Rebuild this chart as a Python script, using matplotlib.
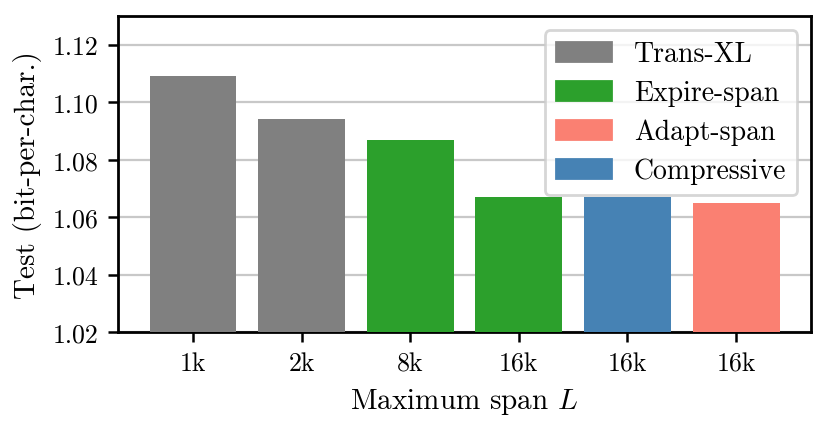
import matplotlib
matplotlib.use("Agg")
import matplotlib.pyplot as plt
from matplotlib.patches import Patch

# data
spans = ['1k', '2k', '8k', '16k', '16k', '16k']
bpc = [1.109, 1.094, 1.087, 1.067, 1.067, 1.065]
models = ['Trans-XL', 'Trans-XL', 'Expire-span', 'Expire-span', 'Compressive', 'Adapt-span']
legend_order = ['Trans-XL', 'Expire-span', 'Adapt-span', 'Compressive']
colors = {'Trans-XL': 'gray', 'Expire-span': '#2ca02c',
          'Adapt-span': 'salmon', 'Compressive': 'steelblue'}

plt.rcParams['font.family'] = ['cmr10', 'DejaVu Serif']
plt.rcParams['mathtext.fontset'] = 'cm'
plt.rcParams['axes.formatter.use_mathtext'] = True

fig = plt.figure(figsize=(4.155, 2.135), dpi=200)
ax = fig.add_axes([0.142, 0.22, 0.834, 0.74])

x = range(len(spans))
ax.bar(x, bpc, width=0.8, color=[colors[m] for m in models], zorder=3)

ax.set_ylim(1.02, 1.13)
yt = [1.02, 1.04, 1.06, 1.08, 1.10, 1.12]
ax.set_yticks(yt)
ax.set_yticklabels([f'{v:.2f}' for v in yt])
ax.set_xticks(list(x))
ax.set_xticklabels(spans)
ax.tick_params(labelsize=9.3, width=0.9)
ax.yaxis.grid(True, color='#c8c8c8', linewidth=0.8, zorder=0)
ax.set_axisbelow(True)
for sp in ax.spines.values():
    sp.set_linewidth(1.0)

ax.set_xlabel(r'Maximum span $L$', fontsize=10.5)
ax.set_ylabel('Test (bit-per-char.)', fontsize=10.5)

handles = [Patch(color=colors[m], label=m) for m in legend_order]
ax.legend(handles=handles, loc='upper right', fontsize=10,
          handlelength=2.0, labelspacing=0.45)

fig.savefig('out.png', dpi=200)
